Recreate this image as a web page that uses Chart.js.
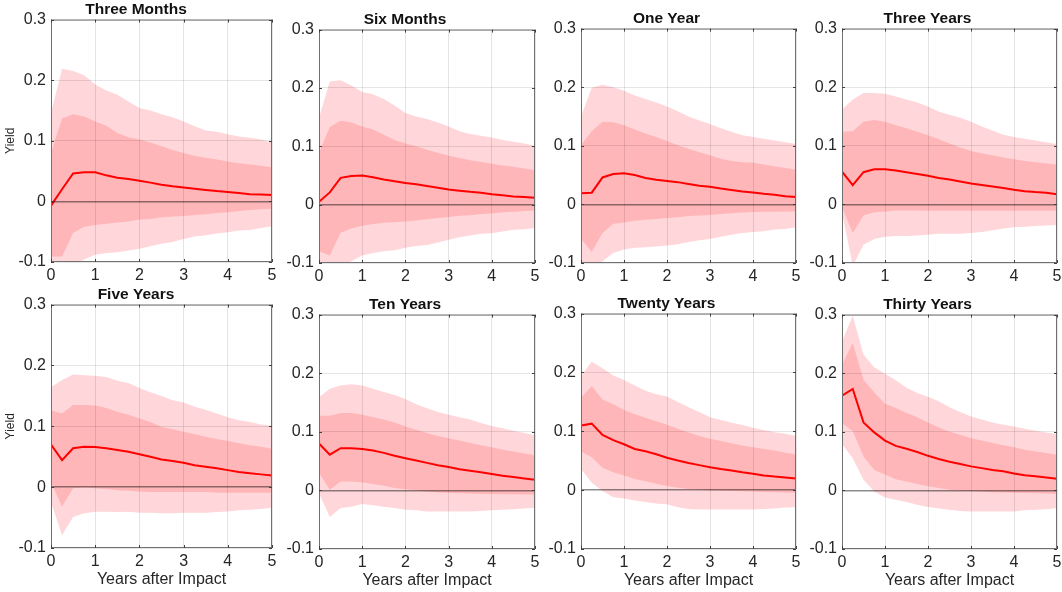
<!DOCTYPE html>
<html>
<head>
<meta charset="utf-8">
<script src="https://cdn.jsdelivr.net/npm/chart.js@4.4.0/dist/chart.umd.min.js"></script>
<style>
  body { margin: 0; background: #fff; }
  #wrap { position: relative; width: 1062px; height: 592px; }
  #wrap canvas { position: absolute; }
</style>
</head>
<body>
<div id="wrap"></div>
<script>
// quarterly horizon, years after the shock
var horizon = [0, 0.25, 0.5, 0.75, 1, 1.25, 1.5, 1.75, 2, 2.25, 2.5, 2.75, 3, 3.25, 3.5, 3.75, 4, 4.25, 4.5, 4.75, 5];
var maturities = ['Three Months', 'Six Months', 'One Year', 'Three Years', 'Five Years', 'Ten Years', 'Twenty Years', 'Thirty Years'];
var xTicks = [0, 1, 2, 3, 4, 5];
var yTicks = [-0.1, 0, 0.1, 0.2, 0.3];
var yTickLabels = ['-0.1', '0', '0.1', '0.2', '0.3'];

// median response, one row per maturity
var median = [
  [-0.007, 0.020, 0.046, 0.048, 0.048, 0.043, 0.039, 0.037, 0.034, 0.031, 0.0275, 0.025, 0.023, 0.021, 0.019, 0.017, 0.0155, 0.014, 0.012, 0.0115, 0.0105],
  [0.005, 0.021, 0.046, 0.049, 0.050, 0.047, 0.043, 0.040, 0.037, 0.035, 0.032, 0.029, 0.026, 0.024, 0.022, 0.0205, 0.018, 0.016, 0.014, 0.013, 0.012],
  [0.019, 0.020, 0.046, 0.052, 0.053, 0.050, 0.045, 0.042, 0.040, 0.038, 0.035, 0.032, 0.030, 0.027, 0.0245, 0.022, 0.0205, 0.018, 0.0165, 0.014, 0.0125],
  [0.056, 0.033, 0.055, 0.060, 0.060, 0.058, 0.055, 0.052, 0.049, 0.045, 0.0425, 0.039, 0.0355, 0.033, 0.0305, 0.028, 0.025, 0.0225, 0.021, 0.020, 0.0175],
  [0.070, 0.0445, 0.064, 0.0665, 0.066, 0.064, 0.061, 0.058, 0.054, 0.050, 0.0455, 0.043, 0.040, 0.036, 0.0335, 0.031, 0.028, 0.025, 0.023, 0.021, 0.019],
  [0.080, 0.061, 0.072, 0.072, 0.0705, 0.068, 0.064, 0.059, 0.055, 0.051, 0.047, 0.043, 0.040, 0.036, 0.0335, 0.031, 0.028, 0.025, 0.023, 0.0205, 0.018],
  [0.110, 0.113, 0.094, 0.085, 0.078, 0.070, 0.066, 0.061, 0.055, 0.0505, 0.046, 0.0425, 0.039, 0.036, 0.0335, 0.0305, 0.028, 0.025, 0.023, 0.0215, 0.020],
  [0.1615, 0.173, 0.116, 0.099, 0.085, 0.076, 0.071, 0.0655, 0.059, 0.0535, 0.049, 0.045, 0.041, 0.038, 0.035, 0.0325, 0.029, 0.026, 0.024, 0.022, 0.020]
];

// 68% band
var upper68 = [
  [0.080, 0.137, 0.144, 0.140, 0.132, 0.125, 0.113, 0.106, 0.102, 0.097, 0.091, 0.085, 0.080, 0.075, 0.072, 0.069, 0.066, 0.063, 0.061, 0.059, 0.056],
  [0.089, 0.133, 0.144, 0.141, 0.134, 0.129, 0.120, 0.111, 0.105, 0.100, 0.094, 0.089, 0.084, 0.080, 0.076, 0.073, 0.070, 0.067, 0.065, 0.062, 0.059],
  [0.101, 0.125, 0.141, 0.140, 0.135, 0.128, 0.121, 0.115, 0.108, 0.101, 0.095, 0.089, 0.084, 0.078, 0.074, 0.072, 0.071, 0.068, 0.065, 0.062, 0.059],
  [0.124, 0.125, 0.141, 0.144, 0.141, 0.135, 0.130, 0.124, 0.118, 0.111, 0.104, 0.097, 0.091, 0.087, 0.084, 0.080, 0.077, 0.074, 0.072, 0.070, 0.068],
  [0.126, 0.121, 0.135, 0.135, 0.134, 0.130, 0.124, 0.119, 0.113, 0.107, 0.099, 0.095, 0.091, 0.087, 0.083, 0.079, 0.076, 0.072, 0.069, 0.0665, 0.063],
  [0.1275, 0.1275, 0.132, 0.132, 0.129, 0.125, 0.121, 0.116, 0.109, 0.1035, 0.098, 0.093, 0.089, 0.085, 0.081, 0.077, 0.0735, 0.0695, 0.0665, 0.063, 0.060],
  [0.157, 0.177, 0.154, 0.146, 0.136, 0.129, 0.123, 0.117, 0.111, 0.1045, 0.098, 0.092, 0.0875, 0.0835, 0.0795, 0.076, 0.073, 0.070, 0.0675, 0.0635, 0.0605],
  [0.2145, 0.2515, 0.189, 0.167, 0.148, 0.1405, 0.132, 0.125, 0.116, 0.1075, 0.100, 0.095, 0.089, 0.085, 0.081, 0.077, 0.0735, 0.0695, 0.0665, 0.064, 0.061]
];
var lower68 = [
  [-0.091, -0.091, -0.052, -0.042, -0.039, -0.037, -0.035, -0.033, -0.030, -0.029, -0.026, -0.025, -0.024, -0.0225, -0.021, -0.019, -0.018, -0.016, -0.014, -0.013, -0.012],
  [-0.080, -0.087, -0.048, -0.041, -0.036, -0.033, -0.031, -0.030, -0.029, -0.027, -0.025, -0.023, -0.021, -0.019, -0.018, -0.016, -0.015, -0.013, -0.012, -0.011, -0.010],
  [-0.059, -0.081, -0.049, -0.033, -0.031, -0.028, -0.026, -0.025, -0.023, -0.022, -0.020, -0.019, -0.018, -0.0165, -0.015, -0.014, -0.013, -0.0125, -0.0125, -0.012, -0.012],
  [-0.005, -0.049, -0.019, -0.0135, -0.012, -0.0105, -0.0105, -0.0105, -0.011, -0.011, -0.011, -0.011, -0.011, -0.011, -0.011, -0.011, -0.011, -0.011, -0.011, -0.011, -0.011],
  [0.008, -0.032, -0.002, -0.0005, -0.002, -0.003, -0.005, -0.006, -0.007, -0.008, -0.008, -0.008, -0.008, -0.008, -0.008, -0.009, -0.009, -0.009, -0.009, -0.009, -0.009],
  [0.030, 0.001, 0.015, 0.015, 0.014, 0.011, 0.008, 0.004, 0.002, 0.000, -0.002, -0.0035, -0.0045, -0.005, -0.0055, -0.006, -0.006, -0.0065, -0.0065, -0.007, -0.007],
  [0.066, 0.056, 0.038, 0.0305, 0.025, 0.019, 0.015, 0.011, 0.007, 0.004, 0.002, 0.001, -0.0005, -0.001, -0.0015, -0.002, -0.0025, -0.003, -0.0035, -0.004, -0.0045],
  [0.115, 0.101, 0.058, 0.035, 0.027, 0.019, 0.015, 0.011, 0.007, 0.004, 0.001, 0.000, -0.001, -0.002, -0.003, -0.0035, -0.004, -0.0045, -0.005, -0.0055, -0.006]
];

// 90% band
var upper90 = [
  [0.146, 0.219, 0.215, 0.208, 0.193, 0.183, 0.176, 0.165, 0.154, 0.150, 0.144, 0.139, 0.132, 0.124, 0.117, 0.115, 0.111, 0.107, 0.105, 0.102, 0.097],
  [0.149, 0.211, 0.213, 0.204, 0.193, 0.189, 0.181, 0.170, 0.157, 0.151, 0.147, 0.141, 0.134, 0.126, 0.121, 0.118, 0.115, 0.111, 0.108, 0.105, 0.101],
  [0.150, 0.199, 0.204, 0.200, 0.194, 0.186, 0.180, 0.174, 0.167, 0.159, 0.150, 0.143, 0.137, 0.130, 0.124, 0.118, 0.115, 0.112, 0.109, 0.106, 0.103],
  [0.162, 0.179, 0.190, 0.190, 0.189, 0.184, 0.179, 0.174, 0.167, 0.158, 0.153, 0.148, 0.141, 0.133, 0.126, 0.119, 0.115, 0.112, 0.109, 0.106, 0.103],
  [0.164, 0.176, 0.185, 0.184, 0.183, 0.181, 0.175, 0.171, 0.163, 0.156, 0.150, 0.143, 0.139, 0.132, 0.127, 0.121, 0.115, 0.110, 0.107, 0.103, 0.101],
  [0.159, 0.1735, 0.179, 0.181, 0.179, 0.1735, 0.168, 0.163, 0.156, 0.147, 0.140, 0.134, 0.129, 0.125, 0.121, 0.115, 0.110, 0.106, 0.102, 0.098, 0.094],
  [0.194, 0.218, 0.207, 0.195, 0.187, 0.178, 0.169, 0.163, 0.159, 0.150, 0.141, 0.133, 0.124, 0.119, 0.1145, 0.1105, 0.106, 0.102, 0.0985, 0.096, 0.092],
  [0.254, 0.298, 0.2315, 0.210, 0.199, 0.188, 0.175, 0.166, 0.160, 0.152, 0.142, 0.134, 0.126, 0.121, 0.116, 0.112, 0.109, 0.105, 0.102, 0.099, 0.096]
];
var lower90 = [
  [-0.125, -0.118, -0.105, -0.096, -0.088, -0.085, -0.084, -0.081, -0.078, -0.074, -0.070, -0.067, -0.062, -0.058, -0.056, -0.053, -0.051, -0.048, -0.047, -0.044, -0.041],
  [-0.115, -0.120, -0.106, -0.097, -0.087, -0.083, -0.080, -0.078, -0.074, -0.071, -0.069, -0.065, -0.060, -0.056, -0.053, -0.050, -0.049, -0.046, -0.043, -0.042, -0.040],
  [-0.110, -0.120, -0.097, -0.083, -0.077, -0.074, -0.073, -0.072, -0.070, -0.068, -0.064, -0.061, -0.059, -0.055, -0.052, -0.049, -0.047, -0.046, -0.043, -0.042, -0.039],
  [-0.014, -0.105, -0.069, -0.059, -0.055, -0.054, -0.054, -0.053, -0.052, -0.050, -0.050, -0.050, -0.049, -0.047, -0.044, -0.041, -0.039, -0.038, -0.037, -0.036, -0.035],
  [-0.025, -0.079, -0.049, -0.043, -0.0405, -0.0405, -0.041, -0.0405, -0.042, -0.042, -0.043, -0.043, -0.042, -0.042, -0.042, -0.041, -0.040, -0.038, -0.037, -0.036, -0.034],
  [-0.005, -0.0455, -0.030, -0.028, -0.023, -0.0255, -0.028, -0.030, -0.033, -0.034, -0.036, -0.036, -0.036, -0.036, -0.036, -0.035, -0.034, -0.033, -0.032, -0.031, -0.0295],
  [0.036, 0.0125, -0.0015, -0.012, -0.014, -0.0175, -0.020, -0.0225, -0.024, -0.029, -0.032, -0.033, -0.033, -0.033, -0.033, -0.033, -0.033, -0.032, -0.031, -0.0295, -0.029],
  [0.079, 0.055, 0.018, -0.002, -0.012, -0.016, -0.020, -0.0245, -0.0285, -0.031, -0.033, -0.035, -0.036, -0.036, -0.036, -0.036, -0.036, -0.034, -0.033, -0.032, -0.030]
];

// plot boxes on the page (px)
var plotLeft = [51, 319, 581, 842];
var plotRight = [272, 535, 796, 1057];
var plotTop = [[20, 30, 29, 29], [305, 315, 314, 315]];
var plotBottom = [[262, 263, 263, 263], [548, 549, 549, 549]];

Chart.defaults.font.family = "'Liberation Sans', Arial, Helvetica, sans-serif";
Chart.defaults.color = '#262626';

function toPoints(values) {
  return values.map(function (v, i) { return { x: horizon[i], y: v }; });
}

// box around the axes with small inward tick marks
var boxPlugin = {
  id: 'box',
  afterDraw: function (chart) {
    var a = chart.chartArea, ctx = chart.ctx;
    var xs = chart.scales.x, ys = chart.scales.y;
    ctx.save();
    ctx.strokeStyle = '#707070';
    ctx.lineWidth = 1;
    ctx.strokeRect(a.left + 0.5, a.top + 0.5, a.right - a.left - 1, a.bottom - a.top - 1);
    ctx.strokeStyle = '#404040';
    ctx.beginPath();
    xs.ticks.forEach(function (t) {
      var px = Math.round(xs.getPixelForValue(t.value)) + 0.5;
      ctx.moveTo(px, a.bottom); ctx.lineTo(px, a.bottom - 3);
      ctx.moveTo(px, a.top); ctx.lineTo(px, a.top + 3);
    });
    ys.ticks.forEach(function (t) {
      var py = Math.round(ys.getPixelForValue(t.value)) + 0.5;
      ctx.moveTo(a.left, py); ctx.lineTo(a.left + 3, py);
      ctx.moveTo(a.right, py); ctx.lineTo(a.right - 3, py);
    });
    ctx.stroke();
    ctx.restore();
  }
};

function makePanel(k) {
  var row = Math.floor(k / 4), col = k % 4;
  var L = col === 0 ? plotLeft[0] : 44;
  var R = 10, T = 20;
  var B = row === 1 ? 44 : 25;
  var w = plotRight[col] - plotLeft[col] + L + R;
  var h = plotBottom[row][col] - plotTop[row][col] + T + B;

  var canvas = document.createElement('canvas');
  canvas.width = w;
  canvas.height = h;
  canvas.style.left = (plotLeft[col] - L) + 'px';
  canvas.style.top = (plotTop[row][col] - T) + 'px';
  document.getElementById('wrap').appendChild(canvas);

  new Chart(canvas.getContext('2d'), {
    type: 'line',
    data: {
      datasets: [
        { data: toPoints(median[k]), borderColor: '#ff0000', borderWidth: 2, fill: false },
        { data: toPoints(upper68[k]), borderWidth: 0, borderColor: 'transparent', backgroundColor: '#ffb6b9', fill: '+1' },
        { data: toPoints(lower68[k]), borderWidth: 0, borderColor: 'transparent', fill: false },
        { data: toPoints(upper90[k]), borderWidth: 0, borderColor: 'transparent', backgroundColor: '#ffd6d9', fill: '+1' },
        { data: toPoints(lower90[k]), borderWidth: 0, borderColor: 'transparent', fill: false }
      ]
    },
    options: {
      responsive: false,
      animation: false,
      devicePixelRatio: 1,
      layout: { padding: { left: 0, right: R, top: 0, bottom: 0 } },
      elements: { point: { radius: 0 }, line: { tension: 0 } },
      plugins: {
        legend: { display: false },
        tooltip: { enabled: false },
        title: {
          display: true,
          text: maturities[k],
          color: '#111',
          font: { size: 15.5, weight: 'bold' },
          padding: { top: 0, bottom: 1 }
        }
      },
      scales: {
        x: {
          type: 'linear',
          min: 0,
          max: 5,
          afterBuildTicks: function (s) { s.ticks = xTicks.map(function (v) { return { value: v }; }); },
          afterFit: function (s) { s.height = B; },
          ticks: { font: { size: 16 }, padding: 4, maxRotation: 0, callback: function (v) { return String(v); } },
          // grid on top of the bands
          grid: { z: 1, color: 'rgba(0,0,0,0.1)', drawTicks: false },
          border: { display: false },
          title: {
            display: row === 1,
            text: 'Years after Impact',
            font: { size: 16 },
            padding: { top: 0, bottom: 3 }
          }
        },
        y: {
          min: -0.1,
          max: 0.3,
          afterBuildTicks: function (s) { s.ticks = yTicks.map(function (v) { return { value: v }; }); },
          afterFit: function (s) { s.width = L; },
          ticks: { font: { size: 16 }, padding: 5, callback: function (v, i) { return yTickLabels[i]; } },
          grid: {
            z: 1,
            drawTicks: false,
            color: function (c) { return Math.abs(c.tick.value) < 1e-9 ? 'rgba(0,0,0,0.45)' : 'rgba(0,0,0,0.1)'; },
            lineWidth: function (c) { return Math.abs(c.tick.value) < 1e-9 ? 1.5 : 1; }
          },
          border: { display: false },
          title: {
            display: col === 0,
            text: 'Yield',
            font: { size: 12 },
            padding: { top: 3, bottom: 0 }
          }
        }
      }
    },
    plugins: [boxPlugin]
  });
}

for (var k = 0; k < maturities.length; k++) {
  makePanel(k);
}
</script>
</body>
</html>
